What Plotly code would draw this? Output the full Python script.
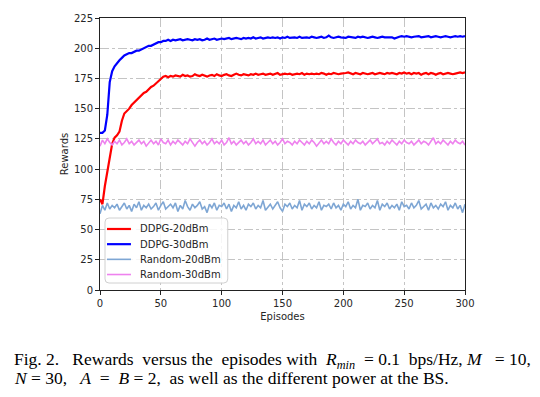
import plotly.graph_objects as go

episodes = list(range(0, 301, 2))

ddpg_30 = [
    130, 130, 132, 145, 172, 181, 185, 188, 190, 192,
    194, 195, 196, 196, 197, 198, 198, 199, 200, 201,
    202, 202, 203, 204, 205, 205, 206, 206, 207, 206,
    207, 206.5, 207, 207.5, 206.5, 207, 207.5, 207, 206.5, 207.5,
    207, 207.5, 206.5, 207, 208, 207, 207.5, 208, 207, 207.5,
    208, 207.5, 208, 208.5, 207.5, 208, 208.5, 208, 207.5, 208.5,
    208, 208.5, 208, 209, 208, 208.5, 209, 208, 208.5, 209,
    208.5, 209, 208.5, 209, 208, 209, 208.5, 209.5, 208.5, 209,
    209, 208.5, 209.5, 208.5, 209, 209, 208.5, 209.5, 209, 208.5,
    209, 209.5, 208.5, 209, 210.5, 209, 208.5, 209, 209.5, 209,
    209, 208.5, 209.5, 209, 209, 208.5, 209.5, 209, 209.5, 209,
    208.5, 209, 209.5, 209, 208.5, 209, 209.5, 209, 209, 208.5,
    209, 208, 209, 209.5, 210, 209.5, 210, 209.5, 209, 209.5,
    209.5, 210, 209, 209.5, 209.5, 210, 209, 209.5, 210, 209.5,
    209, 209.5, 210, 209.5, 209, 209.5, 210, 209.5, 210, 209.5, 210,
]

ddpg_20 = [
    75, 71, 86, 97, 108, 121, 126, 128, 131, 140,
    146, 148, 150, 153, 155, 157, 159, 161, 163, 164,
    166, 168, 169, 171, 173, 175, 176.5, 177, 176, 177,
    176.5, 177.5, 177, 176.5, 178, 177, 177.5, 176.5, 177, 178.5,
    177.5, 177, 178, 177.5, 176.5, 177.5, 178, 177, 178.5, 177.5,
    177, 178, 178.5, 177.5, 177, 178, 179, 178, 177.5, 178.5,
    178, 177.5, 178.5, 178, 179, 178, 178.5, 179, 178, 178.5,
    179, 178, 178.5, 179.5, 178, 178.5, 179, 178.5, 179, 178,
    178.5, 179, 178.5, 179.5, 178, 179, 178.5, 179, 178.5, 179,
    178.5, 179.5, 179, 178, 179, 178.5, 179.5, 179, 178.5, 179,
    179, 179.5, 180, 179, 178.5, 179.5, 179, 178.5, 179.5, 179,
    178.5, 179, 179.5, 178.5, 179, 179.5, 179, 178.5, 179.5, 179,
    179.5, 179, 178.5, 179.5, 179, 180, 179, 179.5, 178.5, 179.5,
    179, 179.5, 178, 179, 179.5, 178.5, 179.5, 179, 178, 179,
    179.5, 178.5, 179, 179.5, 179, 178.5, 179, 179.5, 180, 179.5, 180,
]

random_20 = [
    63, 70, 66, 72, 67, 70, 68, 71, 66, 69,
    72, 67, 70, 65, 71, 68, 73, 66, 70, 68,
    71, 67, 69, 72, 66, 70, 73, 67, 69, 71,
    68, 72, 65, 70, 67, 74, 69, 66, 71, 68,
    70, 73, 67, 69, 64, 71, 68, 72, 66, 70,
    69, 72, 67, 71, 65, 70, 68, 73, 67, 70,
    66, 71, 69, 72, 67, 70, 68, 74, 66, 69,
    71, 67, 70, 73, 68, 65, 71, 69, 72, 67,
    70, 68, 74, 66, 71, 69, 72, 67, 70, 68,
    73, 66, 70, 69, 71, 67, 72, 68, 70, 66,
    71, 69, 73, 67, 70, 68, 75, 66, 70, 69,
    72, 67, 70, 68, 74, 66, 71, 69, 72, 67,
    70, 68, 71, 66, 73, 69, 70, 67, 72, 68,
    70, 74, 67, 69, 71, 66, 72, 68, 70, 67,
    71, 69, 73, 66, 70, 68, 72, 67, 70, 64, 71,
]

random_30 = [
    119, 124, 121, 125, 122, 120, 123, 121, 124, 120,
    122, 125, 121, 123, 120, 122, 124, 121, 123, 119,
    122, 124, 121, 123, 120, 125, 122, 121, 124, 120,
    123, 121, 124, 122, 120, 123, 121, 125, 122, 119,
    122, 124, 121, 123, 120, 122, 125, 121, 123, 121,
    124, 120, 122, 126, 121, 123, 120, 122, 124, 121,
    123, 120, 122, 125, 121, 123, 121, 124, 120, 122,
    124, 121, 123, 120, 122, 125, 121, 123, 122, 120,
    123, 121, 124, 122, 120, 123, 121, 124, 122, 119,
    122, 124, 121, 123, 121, 125, 122, 120, 123, 121,
    124, 122, 120, 123, 121, 124, 122, 121, 123, 120,
    122, 124, 121, 123, 125, 121, 122, 120, 123, 121,
    124, 122, 120, 123, 121, 124, 122, 121, 123, 120,
    122, 124, 121, 123, 122, 120, 123, 126, 121, 123,
    121, 124, 122, 120, 123, 121, 124, 122, 121, 123, 120,
]

series_names = ["DDPG-20dBm", "DDPG-30dBm", "Random-20dBm", "Random-30dBm"]
series_values = [ddpg_20, ddpg_30, random_20, random_30]
series_colors = ["#ff0000", "#0000ff", "#7ea6d4", "#ee82ee"]
series_widths = [2.2, 2.2, 1.6, 1.6]

x_ticks = [0, 50, 100, 150, 200, 250, 300]
y_ticks = [0, 25, 50, 75, 100, 125, 150, 175, 200, 225]

S = "&nbsp;"
caption_line1 = ("Fig." + S + "2." + S * 3 + "Rewards" + S * 2 + "versus" + S + "the" + S * 2 + "episodes"
                 + S + "with" + S * 2 + "<i>R</i><sub><i>min</i></sub>" + S * 2 + "=" + S + "0.1" + S * 2
                 + "bps/Hz," + S + "<i>M</i>" + S * 3 + "=" + S + "10,")
caption_line2 = ("<i>N</i>" + S + "=" + S + "30," + S * 3 + "<i>A</i>" + S * 2 + "=" + S * 2 + "<i>B</i>"
                 + S + "=" + S + "2," + S * 2 + "as well as the different power at the BS.")

fig = go.Figure()
for name, vals, color, w in zip(series_names, series_values, series_colors, series_widths):
    fig.add_trace(go.Scatter(x=episodes, y=vals, mode="lines", name=name,
                             line=dict(color=color, width=w), showlegend=False))

tick_font = dict(family="DejaVu Sans", size=10, color="#262626")
axis_common = dict(showline=True, linecolor="#222", linewidth=1, mirror=True,
                   ticks="outside", ticklen=4, tickcolor="#222", tickwidth=1,
                   showgrid=True, gridcolor="#c4c4c4", griddash="dashdot", gridwidth=1,
                   zeroline=False, tickfont=tick_font)

# page body adds an 8px offset, so the figure is 8px smaller each way
fig.update_layout(
    width=532, height=389,
    margin=dict(l=92, r=74.5, t=10, b=107, autoexpand=False),
    paper_bgcolor="white", plot_bgcolor="white",
    font=dict(family="DejaVu Sans", size=10, color="#262626"),
    xaxis=dict(range=[0, 300], tickvals=x_ticks,
               title=dict(text="Episodes", font=dict(size=10), standoff=4), **axis_common),
    yaxis=dict(range=[0, 225], tickvals=y_ticks,
               title=dict(text="Rewards", font=dict(size=10), standoff=2.5), **axis_common),
    showlegend=False,
)

# legend box (manual, so the entry spacing matches)
lx0, lx1, ly0, ly1 = 0.0137, 0.350, 0.0257, 0.2647
rx, ry = 4 / 365.5, 4 / 272
path = (f"M {lx0+rx},{ly0} L {lx1-rx},{ly0} Q {lx1},{ly0} {lx1},{ly0+ry} "
        f"L {lx1},{ly1-ry} Q {lx1},{ly1} {lx1-rx},{ly1} L {lx0+rx},{ly1} "
        f"Q {lx0},{ly1} {lx0},{ly1-ry} L {lx0},{ly0+ry} Q {lx0},{ly0} {lx0+rx},{ly0} Z")
fig.add_shape(type="path", path=path, xref="paper", yref="paper",
              line=dict(color="#d0d0d0", width=1), fillcolor="rgba(255,255,255,0.85)")
for k, (name, color, w) in enumerate(zip(series_names, series_colors, series_widths)):
    yk = 0.2243 - k * 0.0558
    fig.add_shape(type="line", xref="paper", yref="paper", x0=0.0192, x1=0.0848, y0=yk, y1=yk,
                  line=dict(color=color, width=w))
    fig.add_annotation(xref="paper", yref="paper", x=0.104, y=yk, xanchor="left", yanchor="middle",
                       showarrow=False, text=name,
                       font=dict(family="DejaVu Sans", size=10, color="#262626"))

cap_font = dict(family="Liberation Serif", size=17.5, color="black")
fig.add_annotation(xref="paper", yref="paper", x=-0.2408, y=-0.26, xanchor="left", yanchor="middle",
                   showarrow=False, align="left", font=cap_font, text=caption_line1)
fig.add_annotation(xref="paper", yref="paper", x=-0.2408, y=-0.323, xanchor="left", yanchor="middle",
                   showarrow=False, align="left", font=cap_font, text=caption_line2)

fig.write_html("out.html")
